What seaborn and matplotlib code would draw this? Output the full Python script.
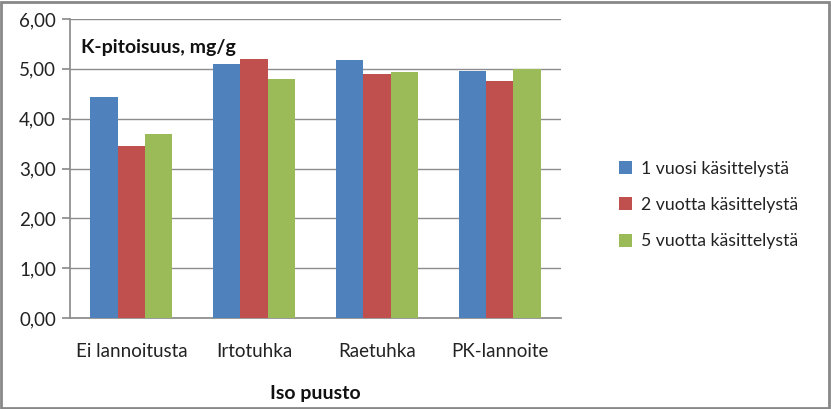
import matplotlib
matplotlib.use("Agg")
import matplotlib.pyplot as plt
from matplotlib.patches import Rectangle
import seaborn as sns
import pandas as pd

categories = ["Ei lannoitusta", "Irtotuhka", "Raetuhka", "PK-lannoite"]
series_names = ["1 vuosi käsittelystä", "2 vuotta käsittelystä", "5 vuotta käsittelystä"]
vals_1v = [4.44, 5.10, 5.18, 4.96]
vals_2v = [3.45, 5.20, 4.90, 4.76]
vals_5v = [3.69, 4.80, 4.94, 5.00]
colors = ["#4F81BD", "#C0504D", "#9BBB59"]
yticks = [0, 1, 2, 3, 4, 5, 6]

rows = []
for s, vals in zip(series_names, [vals_1v, vals_2v, vals_5v]):
    for c, v in zip(categories, vals):
        rows.append({"cat": c, "series": s, "val": v})
df = pd.DataFrame(rows)

sns.set_theme(style="white")
plt.rcParams["font.family"] = ["Lato", "DejaVu Sans"]

fig = plt.figure(figsize=(8.31, 4.09), dpi=100)
ax = fig.add_axes([70/831, 1-318/409, (561-70)/831, (318-19)/409])

sns.barplot(data=df, x="cat", y="val", hue="series", order=categories,
            hue_order=series_names, palette=colors, width=0.67, gap=0,
            saturation=1, errorbar=None, ax=ax, linewidth=0, zorder=3)

ax.set_ylim(0, 6)
ax.set_xlim(-0.5, 3.5)
ax.set_yticks(yticks)
ax.set_yticklabels([f"{t:.2f}".replace(".", ",") for t in yticks], fontsize=13.5, color="#222222")
ax.set_xticklabels(categories, fontsize=13.5, color="#222222")
ax.grid(axis="y", color="#8c8c8c", linewidth=1, zorder=0)
ax.set_axisbelow(True)
for sp in ["top", "right"]:
    ax.spines[sp].set_visible(False)
ax.spines["left"].set_color("#8c8c8c")
ax.spines["bottom"].set_color("#8c8c8c")
ax.tick_params(axis="y", length=6, color="#8c8c8c", left=True, pad=4)
ax.tick_params(axis="x", length=0, pad=18)
ax.set_xlabel("Iso puusto", fontsize=14, fontweight="bold", labelpad=18, color="#111111")
ax.set_ylabel("")

ax.text(81/831, 1-48/409, "K-pitoisuus, mg/g", transform=fig.transFigure,
        fontsize=14, fontweight="bold", va="center", ha="left", color="#111111")

leg = ax.legend(loc="center left", bbox_to_anchor=(612/831, 1-205/409),
                bbox_transform=fig.transFigure, frameon=False, fontsize=12.7,
                handlelength=0.75, handleheight=0.75, handletextpad=0.5,
                labelspacing=1.15, borderaxespad=0)
for t in leg.get_texts():
    t.set_color("#222222")

fig.patches.append(Rectangle((1/831, 1/409), 828/831, 406/409, transform=fig.transFigure,
                             fill=False, edgecolor="#888888", linewidth=2))

fig.savefig("out.png", dpi=100)
